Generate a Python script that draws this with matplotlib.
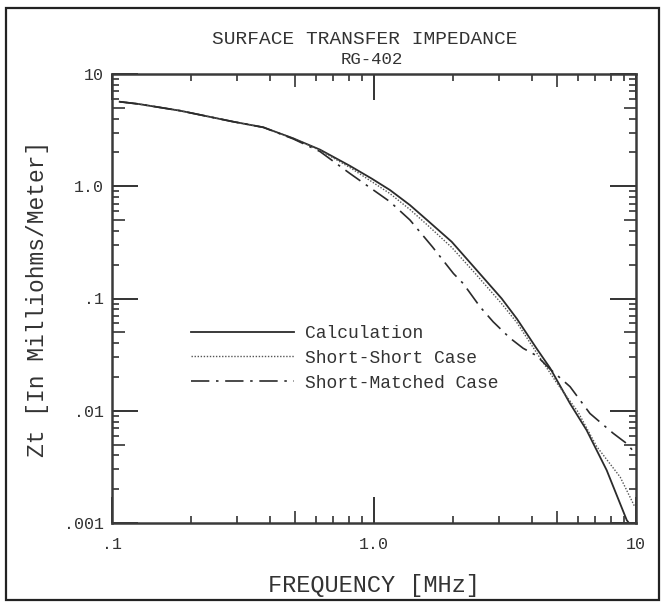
import numpy as np
import matplotlib
matplotlib.use("Agg")
import matplotlib.pyplot as plt
from matplotlib.ticker import FixedLocator, FixedFormatter, NullFormatter
from matplotlib.patches import Rectangle

# values (frequency in MHz, Zt in milliohms/meter)
freq_calc = [0.107, 0.126, 0.182, 0.29, 0.378, 0.492, 0.622, 0.809, 0.98, 1.151, 1.372,
             1.61, 1.98, 2.43, 3.07, 3.51, 4.17, 4.70, 5.60, 6.48, 7.73, 9.22, 9.4]
z_calc = [5.66, 5.41, 4.71, 3.76, 3.35, 2.67, 2.12, 1.52, 1.17, 0.925, 0.679,
          0.49, 0.32, 0.186, 0.100, 0.066, 0.036, 0.0240, 0.0116, 0.00671, 0.00295, 0.00106, 0.001]

freq_ss = [0.107, 0.126, 0.182, 0.29, 0.378, 0.492, 0.622, 0.809, 0.98, 1.151, 1.372, 1.61,
           1.98, 2.43, 3.07, 3.51, 4.17, 5.0, 6.0, 7.08, 8.7, 9.9]
z_ss = [5.66, 5.41, 4.71, 3.76, 3.35, 2.67, 2.09, 1.47, 1.10, 0.86, 0.62, 0.445,
        0.285, 0.168, 0.090, 0.061, 0.033, 0.0175, 0.0098, 0.0048, 0.00257, 0.00139]

freq_sm = [0.107, 0.126, 0.182, 0.29, 0.378, 0.492, 0.622, 0.809, 1.151, 1.372, 1.67, 2.01,
           2.19, 2.54, 2.85, 3.30, 3.71, 4.17, 4.70, 5.60, 6.67, 8.18, 9.22, 9.9]
z_sm = [5.66, 5.41, 4.71, 3.76, 3.35, 2.64, 2.04, 1.30, 0.728, 0.50, 0.289, 0.167,
        0.136, 0.0843, 0.062, 0.0445, 0.036, 0.031, 0.0235, 0.0164, 0.00946, 0.0063, 0.0051, 0.0042]

x_ticks = [0.1, 1.0, 10.0]
x_ticklabels = [".1", "1.0", "10"]
y_ticks = [0.001, 0.01, 0.1, 1.0, 10.0]
y_ticklabels = [".001", ".01", ".1", "1.0", "10"]

ink = "#333333"
plt.rcParams["font.family"] = ["Liberation Mono", "DejaVu Sans Mono"]

fig = plt.figure(figsize=(6.65, 6.06), dpi=100)
ax = fig.add_axes([112 / 665, 83 / 606, 524 / 665, 449 / 606])

ax.plot(freq_calc, z_calc, color="#2b2b2b", lw=1.3, ls="-", label="Calculation")
ax.plot(freq_ss, z_ss, color="#555555", lw=1.0, ls=(0, (1, 1.2)), label="Short-Short Case")
ax.plot(freq_sm, z_sm, color="#2b2b2b", lw=1.2, ls=(0, (11, 4, 1.5, 4)), label="Short-Matched Case")

ax.set_xscale("log")
ax.set_yscale("log")
ax.set_xlim(0.1, 10)
ax.set_ylim(0.001, 10)

ax.xaxis.set_major_locator(FixedLocator(x_ticks))
ax.xaxis.set_major_formatter(FixedFormatter(x_ticklabels))
ax.yaxis.set_major_locator(FixedLocator(y_ticks))
ax.yaxis.set_major_formatter(FixedFormatter(y_ticklabels))

x_minor = [m * 10.0 ** e for e in (-1, 0) for m in range(2, 10)]
y_minor = [m * 10.0 ** e for e in (-3, -2, -1, 0) for m in range(2, 10)]
ax.xaxis.set_minor_locator(FixedLocator(x_minor))
ax.yaxis.set_minor_locator(FixedLocator(y_minor))
ax.xaxis.set_minor_formatter(NullFormatter())
ax.yaxis.set_minor_formatter(NullFormatter())

ax.tick_params(which="both", direction="in", top=True, right=True, color="#333333")
ax.tick_params(which="major", length=19, width=1.4, labelsize=12, labelcolor=ink)
ax.tick_params(which="minor", length=5, width=1.2)
ax.tick_params(axis="x", which="major", pad=10)
ax.tick_params(axis="y", which="major", pad=6)

for s in ax.spines.values():
    s.set_color("#3a3a3a")
    s.set_linewidth(1.8)

ax.set_xlabel("FREQUENCY [MHz]", fontsize=17, color=ink)
ax.xaxis.set_label_coords(0.5, -0.113)
ax.set_ylabel("Zt [In Milliohms/Meter]", fontsize=16.5, color=ink)
ax.yaxis.set_label_coords(-0.12, 0.5)

ax.text(0.483, 1.0 + 34 / 449, "SURFACE TRANSFER IMPEDANCE", transform=ax.transAxes,
        ha="center", va="center", fontsize=14, color=ink)
ax.text(0.495, 1.0 + 14 / 449, "RG-402", transform=ax.transAxes,
        ha="center", va="center", fontsize=12.5, color=ink)

ax.legend(loc="upper left", bbox_to_anchor=(0.151, 0.441), frameon=False,
          fontsize=13, handlelength=5.7, handletextpad=0.6, labelspacing=0.43,
          borderpad=0, borderaxespad=0, labelcolor=ink)

fig.patches.append(Rectangle((6 / 665, 6 / 606), 653 / 665, 592 / 606, transform=fig.transFigure,
                             fill=False, edgecolor="#222222", linewidth=1.6))

# medium-length ticks at the 5s, like the plotter output
fig.canvas.draw()
for axis in (ax.xaxis, ax.yaxis):
    locs = axis.get_minorticklocs()
    for loc, tick in zip(locs, axis.get_minor_ticks(len(locs))):
        mant = loc / 10.0 ** np.floor(np.log10(loc) + 1e-9)
        if abs(mant - 5) < 0.01:
            tick.tick1line.set_markersize(9)
            tick.tick2line.set_markersize(9)

fig.savefig("out.png", dpi=100)
